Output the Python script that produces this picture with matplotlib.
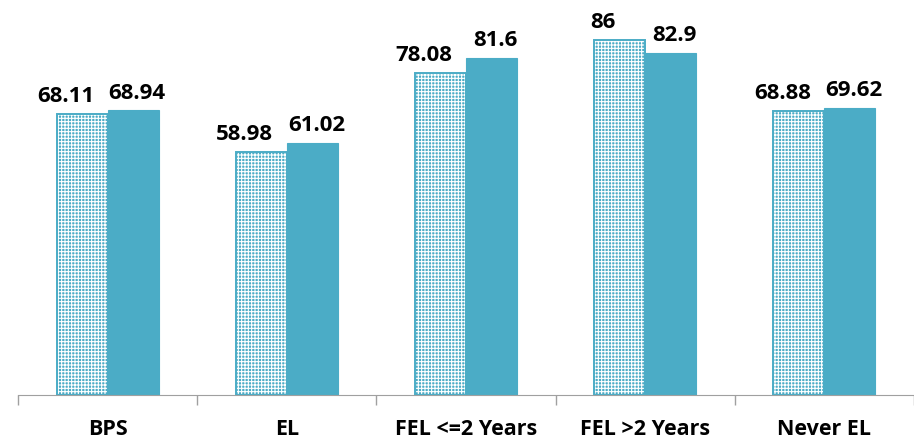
import numpy as np
import matplotlib.pyplot as plt

categories = ["BPS", "EL", "FEL <=2 Years", "FEL >2 Years", "Never EL"]
series_a = [68.11, 58.98, 78.08, 86, 68.88]
series_b = [68.94, 61.02, 81.6, 82.9, 69.62]
labels_a = ["68.11", "58.98", "78.08", "86", "68.88"]
labels_b = ["68.94", "61.02", "81.6", "82.9", "69.62"]

teal = "#4BACC6"
plt.rcParams["font.family"] = ["Open Sans", "DejaVu Sans"]
plt.rcParams["hatch.linewidth"] = 0.8

fig = plt.figure(figsize=(9.14, 4.43), dpi=100)
ax = fig.add_axes([0.0197, 0.1084, 0.9803, 0.8916])

x = np.arange(len(categories))
w = 0.285

# hatched bars: teal base with white grid, then teal outline
ax.bar(x - w, series_a, w, align="edge", color=teal, edgecolor="white",
       hatch="+++++", linewidth=0)
ax.bar(x - w, series_a, w, align="edge", fill=False, edgecolor=teal, linewidth=1.4)
ax.bar(x, series_b, w, align="edge", color=teal, edgecolor=teal, linewidth=0.8)

for i in range(len(categories)):
    ax.annotate(labels_a[i], (x[i] - w / 2, series_a[i]), xytext=(-12, 5),
                textcoords="offset points", ha="center", va="bottom",
                fontsize=16, fontweight="bold")
    ax.annotate(labels_b[i], (x[i] + w / 2, series_b[i]), xytext=(3, 5),
                textcoords="offset points", ha="center", va="bottom",
                fontsize=16, fontweight="bold")

ax.set_xlim(-0.5, len(categories) - 0.5)
ax.set_ylim(0, 95.7)
ax.set_xticks(x)
ax.set_xticklabels(categories, fontsize=15.5, fontweight="bold")
ax.tick_params(axis="x", which="major", length=0, pad=17)
ax.set_xticks(np.arange(len(categories) + 1) - 0.5, minor=True)
ax.tick_params(axis="x", which="minor", length=7, color="#A0A0A0", width=1)
ax.set_yticks([])
for s in ["top", "right", "left"]:
    ax.spines[s].set_visible(False)
ax.spines["bottom"].set_color("#A0A0A0")

fig.savefig("out.png", dpi=100)
